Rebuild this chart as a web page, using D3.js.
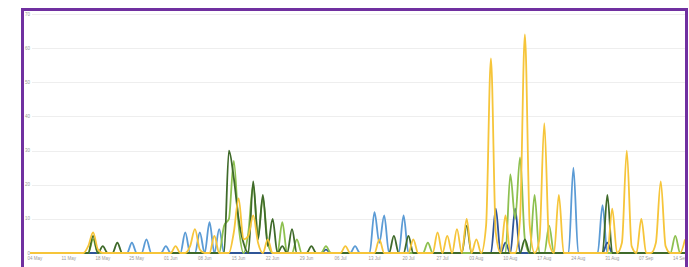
<!DOCTYPE html>
<html>
<head>
<meta charset="utf-8">
<script src="https://cdn.jsdelivr.net/npm/d3@7"></script>
<style>
  html, body { margin: 0; padding: 0; background: #fff; }
  svg { display: block; }
</style>
</head>
<body>
<svg id="chart" width="689" height="267"></svg>
<script>
// daily values, first day = 3 May
const startDay = "2020-05-03";
const endDay = "2020-09-15";
const yTicks = [0, 10, 20, 30, 40, 50, 60, 70];
const xTickDays = ["2020-05-04", "2020-05-11", "2020-05-18", "2020-05-25", "2020-06-01",
    "2020-06-08", "2020-06-15", "2020-06-22", "2020-06-29", "2020-07-06", "2020-07-13",
    "2020-07-20", "2020-07-27", "2020-08-03", "2020-08-10", "2020-08-17", "2020-08-24",
    "2020-08-31", "2020-09-07", "2020-09-14"];

const blueVals = [
    0,0,0,0,0,0,0,0,0,0, 0,0,0,0,0,0,0,0,0,0,
    0,3,0,0,4,0,0,0,2,0, 0,0,6,0,0,6,0,9,0,7,
    0,0,0,0,0,0,0,0,0,0, 0,0,0,0,0,0,0,0,0,0,
    0,0,0,0,0,0,0,2,0,0, 0,12,3,11,0,0,0,11,0,0,
    0,0,0,0,0,0,0,0,0,0, 0,0,0,0,0,0,0,0,0,0,
    0,0,0,0,0,0,0,0,0,0, 0,0,25,0,0,0,0,0,14,0,
    0,0,0,0,0,0,0,0,0,0, 0,0,0,0,0,0];
const navyVals = [
    0,0,0,0,0,0,0,0,0,0, 0,0,0,0,0,0,0,0,0,0,
    0,0,0,0,0,0,0,0,0,0, 0,0,0,0,0,0,0,0,0,0,
    0,0,0,0,0,0,0,0,0,0, 0,0,0,0,0,0,0,0,0,0,
    0,1,0,0,0,0,0,0,0,0, 0,0,0,0,0,0,0,0,0,0,
    0,0,0,0,0,0,0,0,0,0, 0,0,0,0,0,0,13,0,3,0,
    13,0,0,0,0,0,0,0,0,0, 0,0,0,0,0,0,0,0,0,3,
    0,0,0,0,0,0,0,0,0,0, 0,0,0,0,0,0];
const greenVals = [
    0,0,0,0,0,0,0,0,0,0, 0,0,0,4,0,0,0,0,0,0,
    0,0,0,0,0,0,0,0,0,0, 0,0,0,0,0,0,0,0,0,0,
    8,10,27,8,0,6,20,5,16,3, 0,0,9,0,0,4,0,0,0,0,
    0,2,0,0,0,0,0,0,0,0, 0,0,0,0,0,0,0,0,0,0,
    0,0,3,0,0,0,0,0,0,0, 0,0,0,0,0,0,0,0,0,23,
    10,28,4,0,17,0,0,8,0,0, 0,0,0,0,0,0,0,0,0,0,
    0,0,0,0,0,0,0,0,0,0, 0,0,0,5,0,0];
const darkGreenVals = [
    0,0,0,0,0,0,0,0,0,0, 0,0,0,5,0,2,0,0,3,0,
    0,0,0,0,0,0,0,0,0,0, 0,0,0,0,0,0,0,0,0,0,
    0,30,22,10,3,0,21,4,17,2, 10,0,2,0,7,0,0,0,2,0,
    0,0,0,0,0,0,0,0,0,0, 0,0,0,0,0,5,0,0,5,0,
    0,0,0,0,0,0,0,0,0,0, 8,0,0,0,0,0,0,0,0,0,
    0,0,4,0,0,0,0,0,0,0, 0,0,0,0,0,0,0,0,0,17,
    0,0,0,0,0,0,0,0,0,0, 0,0,0,0,0,0];
const goldVals = [
    0,0,0,0,0,0,0,0,0,0, 0,0,2,6,1,0,0,0,0,0,
    0,0,0,0,0,0,0,0,0,0, 2,0,0,2,7,1,0,0,5,0,
    0,0,6,16,4,5,11,3,0,4, 0,0,0,0,0,0,0,0,0,0,
    0,0,0,0,0,2,0,0,0,0, 0,0,4,0,0,0,0,0,0,4,
    0,0,0,0,6,0,5,0,7,0, 10,0,4,0,8,57,6,0,11,0,
    0,10,64,8,0,4,38,3,0,17, 0,0,0,0,0,0,0,0,0,0,
    13,0,3,30,2,0,10,0,0,3, 21,2,0,0,0,4];

const seriesList = [
    { name: "blue", vals: blueVals, cl: "#5b9bd5" },
    { name: "navy", vals: navyVals, cl: "#2f5597" },
    { name: "green", vals: greenVals, cl: "#8dc04f" },
    { name: "darkgreen", vals: darkGreenVals, cl: "#3f6a2a" },
    { name: "gold", vals: goldVals, cl: "#f6c53a" },
];

const svg = d3.select("#chart");
const parse = d3.timeParse("%Y-%m-%d");
const day0 = parse(startDay);

const x = d3.scaleTime().domain([day0, parse(endDay)]).range([30, 685]);
const y = d3.scaleLinear().domain([0, 70]).range([253, 14]);

// gridlines
svg.append("g")
    .selectAll("line")
    .data(yTicks)
    .enter()
    .append("line")
    .attr("x1", 32)
    .attr("x2", 685)
    .attr("y1", (d) => Math.round(y(d)) + 0.5)
    .attr("y2", (d) => Math.round(y(d)) + 0.5)
    .attr("stroke", (d) => (d === 0 ? "#d4d4d4" : "#eeeeee"))
    .attr("stroke-width", 1);

// y labels
svg.append("g")
    .selectAll("text")
    .data(yTicks)
    .enter()
    .append("text")
    .attr("x", 30)
    .attr("y", (d) => y(d) + 1.5)
    .attr("text-anchor", "end")
    .attr("font-family", "Liberation Sans, Arial, sans-serif")
    .attr("font-size", 4.5)
    .attr("fill", "#999999")
    .text((d) => d);

// x labels
const fmt = d3.timeFormat("%d %b");
svg.append("g")
    .selectAll("text")
    .data(xTickDays.map(parse))
    .enter()
    .append("text")
    .attr("x", (d) => x(d))
    .attr("y", 260)
    .attr("text-anchor", "middle")
    .attr("font-family", "Liberation Sans, Arial, sans-serif")
    .attr("font-size", 4.5)
    .attr("fill", "#999999")
    .text((d) => fmt(d));

// lines
const line = d3
    .line()
    .x((d, i) => x(d3.timeDay.offset(day0, i)))
    .y((d) => y(d))
    .curve(d3.curveMonotoneX);

svg.append("g")
    .selectAll("path")
    .data(seriesList)
    .enter()
    .append("path")
    .attr("d", (s) => line(s.vals))
    .attr("fill", "none")
    .attr("stroke", (s) => s.cl)
    .attr("stroke-width", 1.8)
    .attr("stroke-linejoin", "round");

// frame
svg.append("rect")
    .attr("x", 22.5)
    .attr("y", 9.5)
    .attr("width", 664)
    .attr("height", 280)
    .attr("fill", "none")
    .attr("stroke", "#7030a0")
    .attr("stroke-width", 3);
</script>
</body>
</html>
